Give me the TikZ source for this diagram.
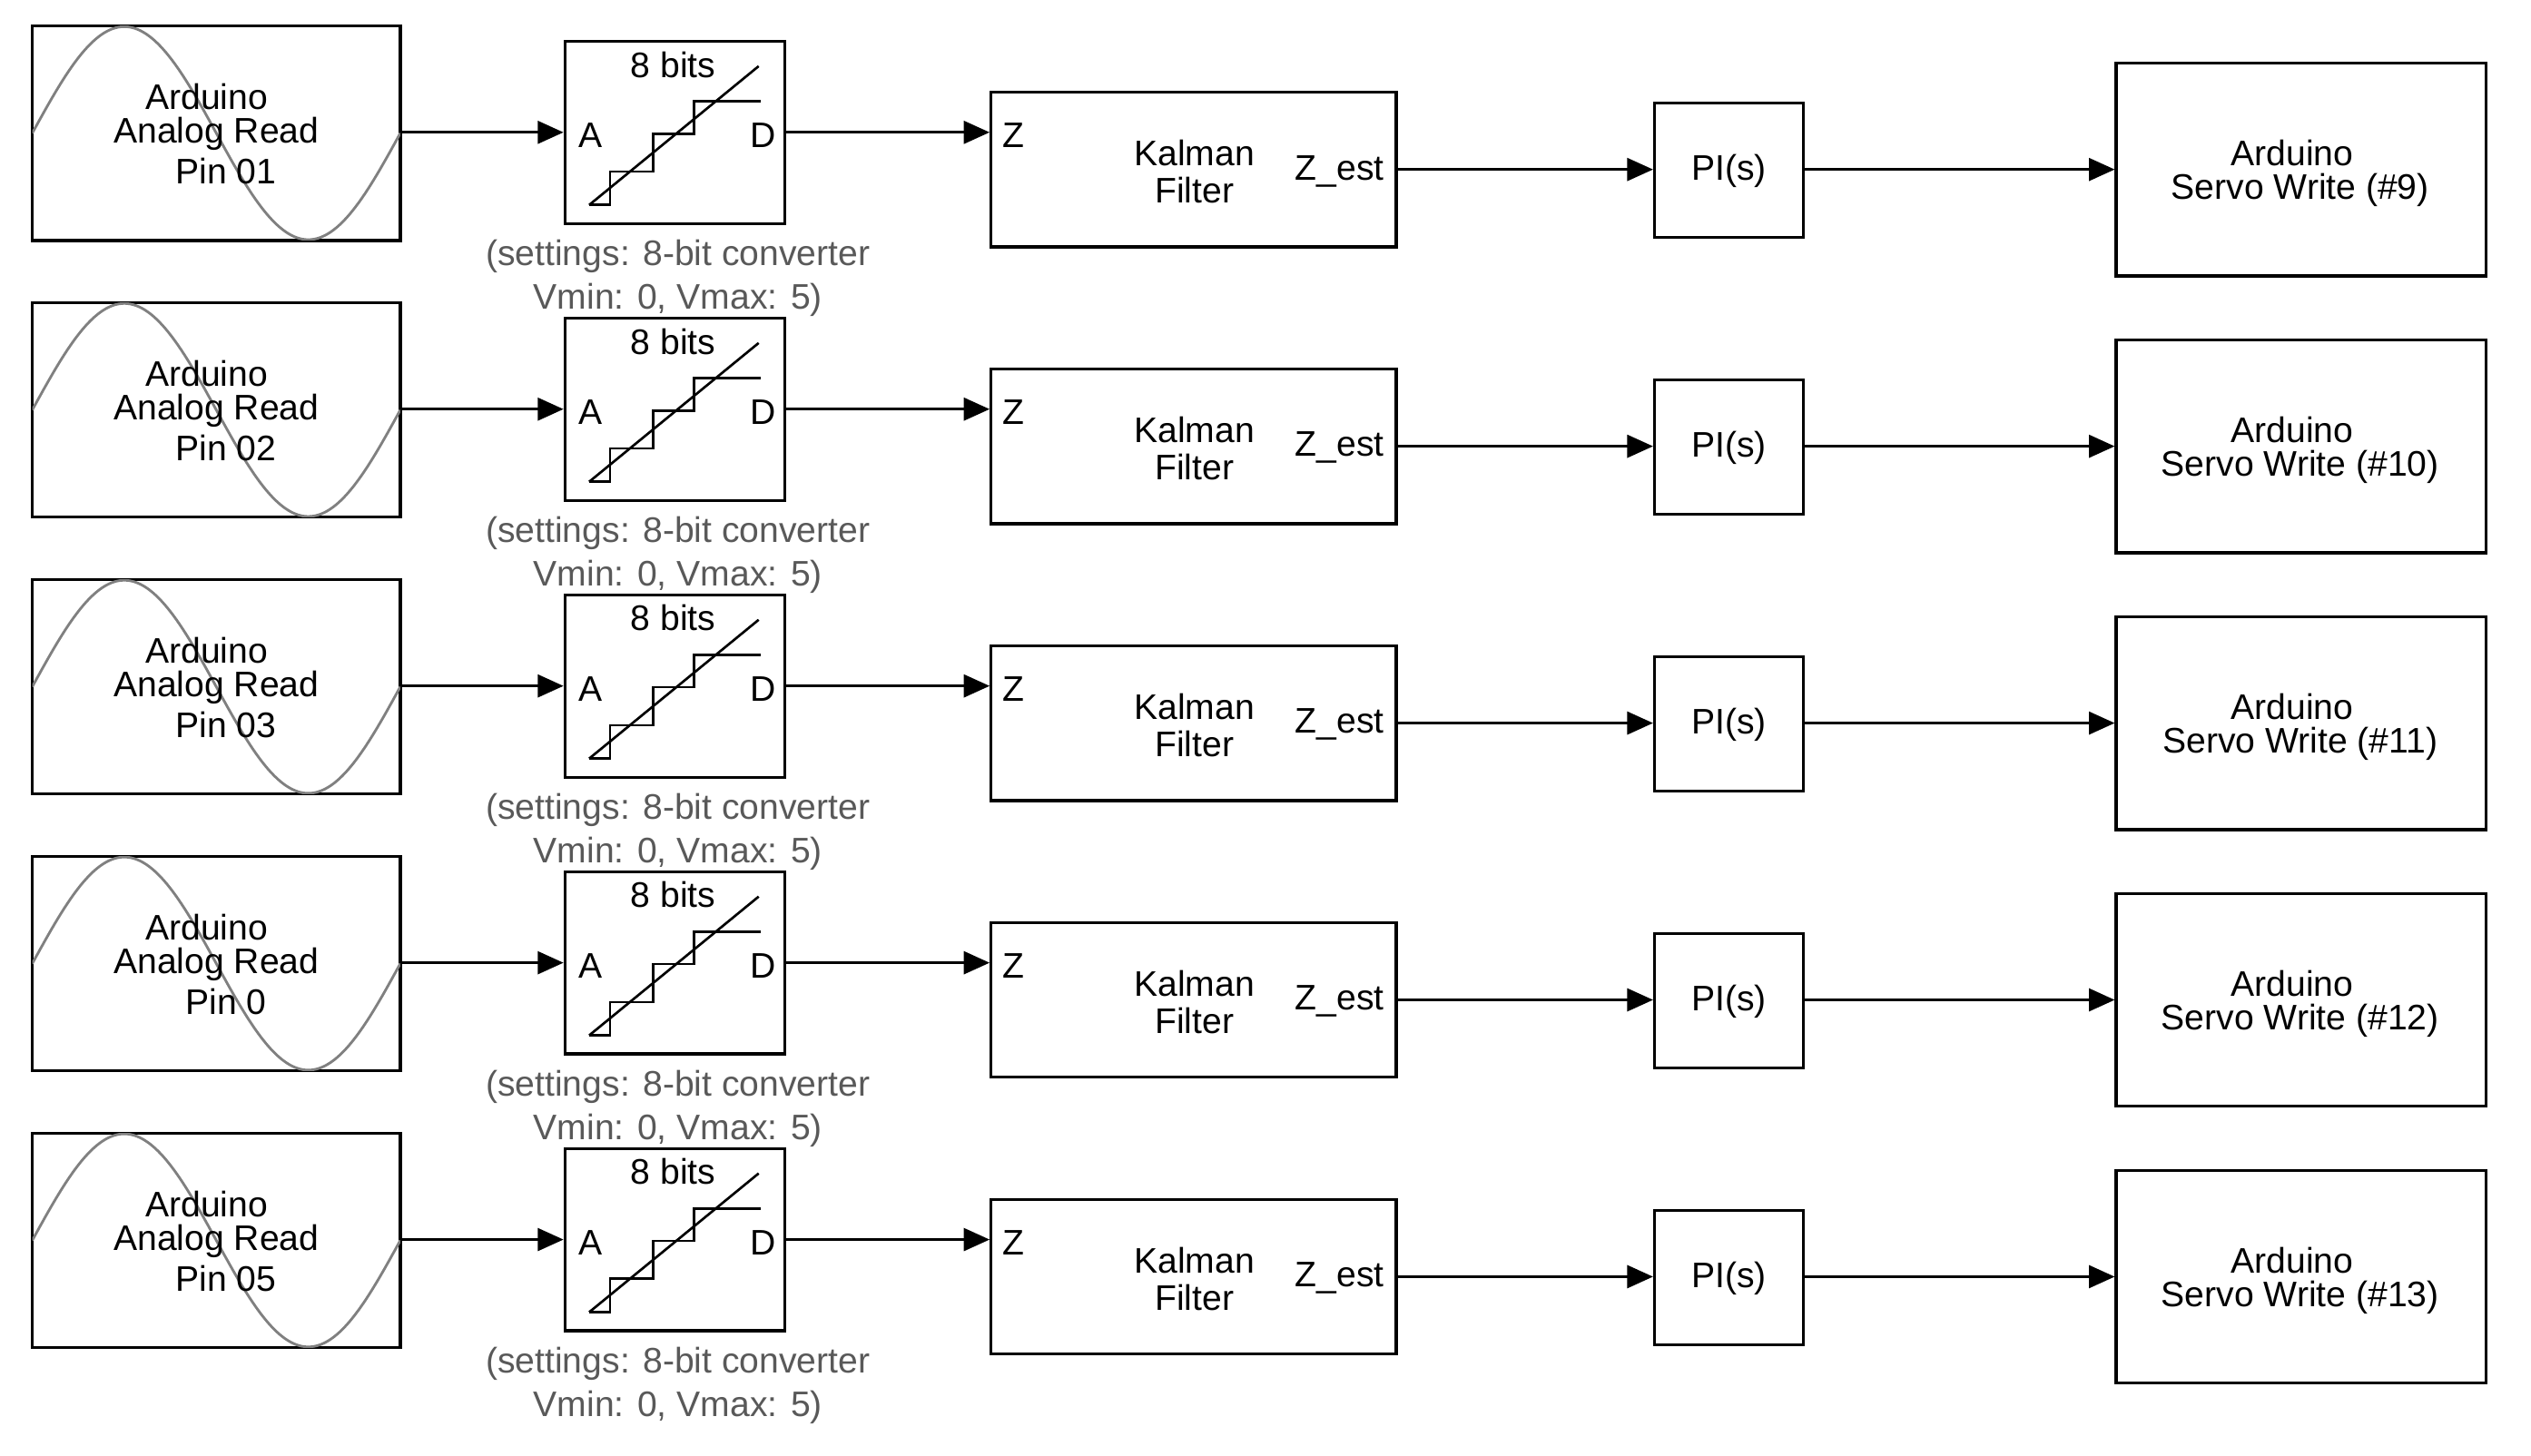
\documentclass[tikz,border=0pt]{standalone}
\usepackage{fontspec}
\setmainfont{Liberation Sans}
\usetikzlibrary{arrows.meta}
\begin{document}
\begin{tikzpicture}[x=1pt,y=-1pt,
  blk/.style={draw,line width=1.8pt,inner sep=0},
  lbl/.style={font=\fontsize{22}{26}\selectfont,align=center,inner sep=0},
  gl/.style={lbl,text=black!65},
  arr/.style={line width=1.8pt,-{Triangle[length=16pt,width=14pt]}}]
\useasboundingbox (0,0) rectangle (1568,902);
\foreach \i/\pin/\sv in {0/Pin 01/9,1/Pin 02/10,2/Pin 03/11,3/Pin 0/12,4/Pin 05/13}{
\begin{scope}[yshift={-171.5*\i}]
 \node[blk,minimum width=228,minimum height=133] (src\i) at (134,82.5) {};
 \begin{scope}
  \clip (20,16) rectangle (248,149);
  \draw[black!50,line width=1.6pt] plot[domain=20:248,samples=80,smooth] (\x,{82.5-66*sin((\x-20)/228*360)});
 \end{scope}
 \node[lbl] at (128,60) {Arduino};
 \node[lbl] at (134,83) {Analog Read};
 \node[lbl] at (140,106) {\pin};
 \node[blk,minimum width=136,minimum height=113] (q\i) at (418,82) {};
 \node[lbl] at (417,40) {8 bits};
 \node[lbl] at (366,84) {A};
 \node[lbl] at (473,84) {D};
 \draw[line width=1.5pt] (365,127)--(470,41);
 \draw[line width=1.5pt] (365,127)--(378,127)--(378,106.3)--(404.6,106.3)--(404.6,82.8)--(429.8,82.8)--(429.8,62.7)--(471.2,62.7);
 \node[gl] at (420,159) {(settings: 8-bit converter};
 \node[gl] at (420,186) {Vmin: 0, Vmax: 5)};
 \node[blk,minimum width=251,minimum height=96] (k\i) at (739.5,105) {};
 \node[lbl] at (628,84) {Z};
 \node[lbl] at (740,95) {Kalman};
 \node[lbl] at (740,118) {Filter};
 \node[lbl] at (830,106) {Z\_est};
 \node[blk,minimum width=92,minimum height=83] (p\i) at (1071,105.5) {};
 \node[lbl] at (1071,106) {PI(s)};
 \node[blk,minimum width=229,minimum height=132] (s\i) at (1425.5,105) {};
 \node[lbl] at (1420,95) {Arduino};
 \node[lbl] at (1425,118) {Servo Write (\#\sv)};
 \draw[arr] (src\i.east|-0,82) -- (q\i.west|-0,82);
 \draw[arr] (q\i.east|-0,82) -- (k\i.west|-0,82);
 \draw[arr] (k\i.east|-0,105) -- (p\i.west|-0,105);
 \draw[arr] (p\i.east|-0,105) -- (s\i.west|-0,105);
\end{scope}}
\end{tikzpicture}
\end{document}
